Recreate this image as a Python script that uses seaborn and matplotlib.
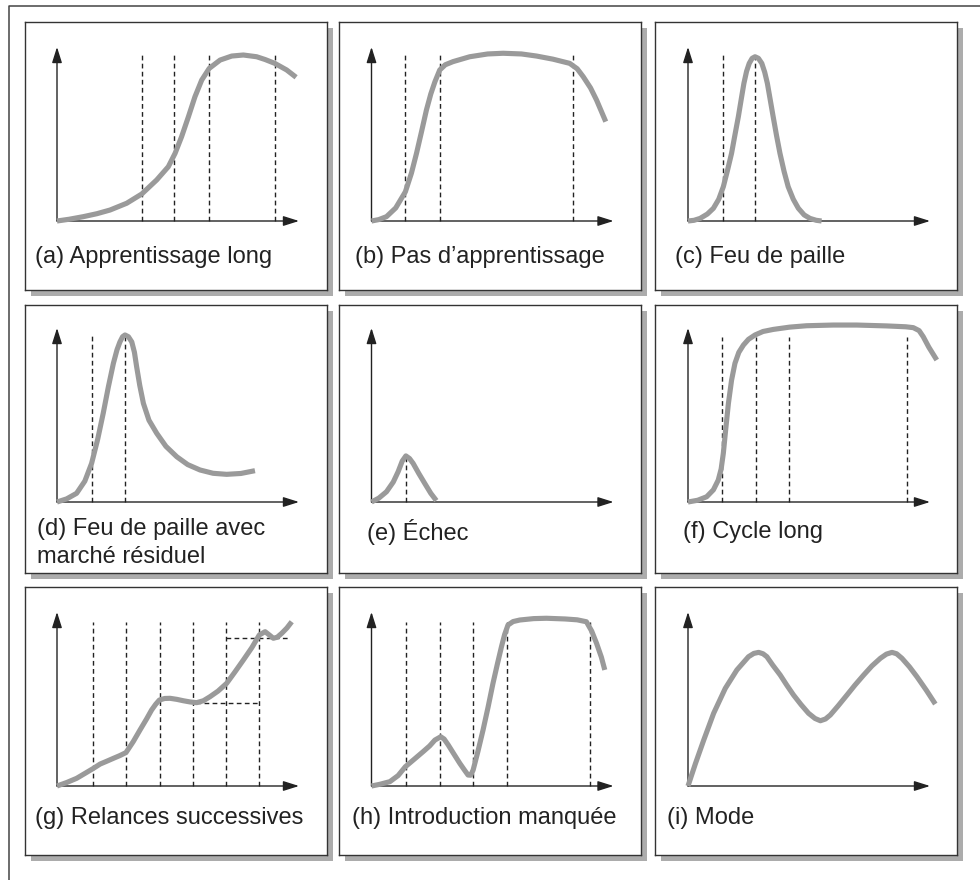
import matplotlib
matplotlib.use("Agg")
import matplotlib.pyplot as plt
import seaborn as sns
from matplotlib.patches import Rectangle
from matplotlib.lines import Line2D

sns.set_theme(style="white")
plt.rcParams['font.family'] = ['Liberation Sans', 'DejaVu Sans']

# ---------------- data ----------------
labels = ["(a) Apprentissage long", "(b) Pas d\u2019apprentissage", "(c) Feu de paille",
          "(d) Feu de paille avec\nmarché résiduel", "(e) Échec", "(f) Cycle long",
          "(g) Relances successives", "(h) Introduction manquée", "(i) Mode"]

a_x = [0.0, 0.5, 1.09, 1.65, 2.19, 2.88, 3.5, 4.12, 4.6, 4.88, 5.15, 5.43, 5.7, 5.98, 6.29, 6.74, 7.22, 7.7, 8.25, 8.6, 9.0, 9.49, 9.88]
a_y = [0.0, 0.1, 0.25, 0.42, 0.63, 1.02, 1.55, 2.36, 3.12, 3.89, 4.85, 5.99, 7.14, 8.1, 8.77, 9.25, 9.48, 9.54, 9.44, 9.28, 9.06, 8.68, 8.26]

b_x = [0.0, 0.3, 0.62, 1.0, 1.40, 1.65, 1.86, 2.07, 2.27, 2.45, 2.62, 2.82, 3.05, 3.37, 4.06, 4.8, 5.44, 6.2, 6.82, 7.5, 8.19, 8.5, 8.75, 9.05, 9.3, 9.68]
b_y = [0.0, 0.08, 0.25, 0.75, 1.68, 2.75, 3.89, 5.15, 6.38, 7.3, 8.0, 8.68, 8.98, 9.16, 9.44, 9.6, 9.64, 9.6, 9.48, 9.3, 9.06, 8.75, 8.29, 7.65, 6.95, 5.71]

c_x = [0.0, 0.25, 0.5, 0.8, 1.05, 1.27, 1.46, 1.63, 1.8, 1.94, 2.08, 2.2, 2.31, 2.42, 2.53, 2.65, 2.77, 2.91, 3.05, 3.17, 3.28, 3.4, 3.52, 3.66, 3.8, 3.97, 4.14, 4.35, 4.56, 4.8, 5.04, 5.3, 5.52]
c_y = [0.0, 0.04, 0.15, 0.4, 0.73, 1.25, 1.97, 2.9, 3.89, 4.95, 5.99, 7.0, 7.91, 8.6, 9.06, 9.35, 9.44, 9.35, 9.06, 8.55, 7.91, 6.95, 5.99, 4.9, 3.89, 2.85, 1.97, 1.25, 0.73, 0.35, 0.15, 0.04, 0.0]

d_x = [0.0, 0.4, 0.81, 1.15, 1.43, 1.68, 1.91, 2.12, 2.33, 2.48, 2.6, 2.71, 2.81, 2.95, 3.09, 3.2, 3.29, 3.42, 3.57, 3.8, 4.12, 4.5, 4.95, 5.4, 5.91, 6.45, 7.01, 7.6, 8.18]
d_y = [0.0, 0.18, 0.5, 1.2, 2.22, 3.6, 5.1, 6.6, 7.97, 8.75, 9.2, 9.5, 9.6, 9.5, 9.2, 8.6, 7.78, 6.7, 5.67, 4.7, 3.95, 3.2, 2.6, 2.15, 1.84, 1.65, 1.59, 1.64, 1.80]

e_x = [0.0, 0.3, 0.62, 0.9, 1.10, 1.27, 1.42, 1.57, 1.72, 1.95, 2.2, 2.45, 2.68]
e_y = [0.0, 0.22, 0.59, 1.15, 1.74, 2.35, 2.65, 2.5, 2.22, 1.65, 1.07, 0.5, 0.08]

f_x = [0.0, 0.4, 0.77, 1.05, 1.25, 1.37, 1.46, 1.56, 1.67, 1.8, 1.94, 2.1, 2.29, 2.5, 2.77, 3.1, 3.53, 4.2, 4.9, 6.0, 6.97, 8.2, 9.0, 9.31, 9.55, 9.72, 9.95, 10.28]
f_y = [0.0, 0.1, 0.3, 0.7, 1.26, 1.9, 2.8, 4.2, 5.67, 7.0, 7.97, 8.6, 9.02, 9.35, 9.6, 9.8, 9.92, 10.05, 10.13, 10.17, 10.17, 10.12, 10.07, 10.02, 9.85, 9.5, 8.9, 8.16]

g_x = [0.0, 0.4, 0.81, 1.15, 1.5, 1.78, 2.05, 2.33, 2.6, 2.85, 3.15, 3.43, 3.7, 3.91, 4.08, 4.23, 4.45, 4.67, 4.95, 5.22, 5.5, 5.77, 6.05, 6.32, 6.65, 7.01, 7.35, 7.7, 8.05, 8.36, 8.6, 8.8, 8.94, 9.1, 9.29, 9.5, 9.7]
g_y = [0.0, 0.2, 0.44, 0.72, 1.01, 1.26, 1.42, 1.59, 1.75, 1.92, 2.55, 3.22, 3.85, 4.37, 4.7, 4.94, 5.03, 5.04, 4.98, 4.9, 4.83, 4.79, 4.9, 5.13, 5.45, 5.9, 6.55, 7.24, 7.95, 8.68, 8.87, 8.65, 8.49, 8.55, 8.78, 9.08, 9.44]
g_hdash_y = [4.75, 8.49]
g_hdash_x0 = [5.75, 6.98]
g_hdash_x1 = [8.36, 9.63]

h_x = [0.0, 0.35, 0.76, 1.1, 1.4, 1.75, 2.13, 2.4, 2.62, 2.86, 3.0, 3.17, 3.4, 3.65, 3.85, 3.99, 4.1, 4.2, 4.4, 4.61, 4.82, 5.02, 5.2, 5.37, 5.5, 5.64, 5.85, 6.13, 6.7, 7.23, 8.0, 8.5, 8.88, 9.1, 9.3, 9.5, 9.64]
h_y = [0.0, 0.1, 0.25, 0.6, 1.11, 1.52, 1.97, 2.3, 2.64, 2.83, 2.7, 2.36, 1.85, 1.3, 0.9, 0.63, 0.62, 0.92, 2.0, 3.22, 4.55, 5.9, 7.0, 8.0, 8.7, 9.25, 9.45, 9.54, 9.62, 9.64, 9.6, 9.55, 9.44, 8.9, 8.2, 7.4, 6.67]

i_x = [0.0, 0.31, 0.65, 1.06, 1.54, 2.02, 2.5, 2.72, 2.92, 3.1, 3.26, 3.5, 3.81, 4.08, 4.36, 4.67, 4.98, 5.25, 5.47, 5.68, 5.88, 6.2, 6.57, 6.9, 7.26, 7.6, 7.95, 8.2, 8.43, 8.62, 8.84, 9.15, 9.46, 9.85, 10.22]
i_y = [0.0, 1.3, 2.64, 4.18, 5.61, 6.67, 7.43, 7.62, 7.68, 7.6, 7.43, 6.95, 6.38, 5.8, 5.23, 4.68, 4.18, 3.88, 3.75, 3.85, 4.08, 4.6, 5.23, 5.8, 6.38, 6.9, 7.34, 7.58, 7.68, 7.6, 7.34, 6.85, 6.28, 5.5, 4.71]

curves_x = [a_x, b_x, c_x, d_x, e_x, f_x, g_x, h_x, i_x]
curves_y = [a_y, b_y, c_y, d_y, e_y, f_y, g_y, h_y, i_y]

dash_x = [[3.5, 4.85, 6.29, 9.0],
          [1.40, 2.82, 8.33],
          [1.43, 2.77],
          [1.43, 2.81],
          [1.42],
          [1.42, 2.8, 4.17, 9.04],
          [1.47, 2.85, 4.26, 5.6, 6.98, 8.36],
          [1.42, 2.84, 4.2, 5.58, 9.02],
          []]
dash_top = [9.54, 9.54, 9.54, 9.6, 2.6, 9.5, 9.44, 9.44, 9.44]

# ---------------- layout (pixels) ----------------
FW, FH = 980, 880
box_left = [25, 339, 655]
box_top = [22, 305, 587]
BW, BH = 302, 268
origin_dx = [32, 32.5, 33]
origin_dy = [199, 197, 199]
SX, SY = 24.2, 17.4
label_pos = [(10, 235), (16, 235), (20, 235), (12, 224), (28, 227), (28, 227),
             (10, 231), (13, 231), (12, 231)]

CURVE = "#9a9a9a"
INK = "#222222"

fig = plt.figure(figsize=(FW / 100, FH / 100), dpi=100)
fig.patch.set_facecolor("white")

# outer frame (left and top edges)
fig.add_artist(Line2D([9 / FW, 9 / FW, 1.0], [0.0, 1 - 6 / FH, 1 - 6 / FH],
                      transform=fig.transFigure, color="#444444", lw=1.1))

for k in range(9):
    r, c = divmod(k, 3)
    L, T = box_left[c], box_top[r]
    # shadow
    fig.add_artist(Rectangle(((L + 6) / FW, 1 - (T + BH + 6) / FH), BW / FW, BH / FH,
                             transform=fig.transFigure, facecolor="#acacac",
                             edgecolor="none", zorder=-1))
    ax = fig.add_axes([L / FW, 1 - (T + BH) / FH, BW / FW, BH / FH])
    ax.set_facecolor("white")
    ox, oy = origin_dx[c], origin_dy[r]
    ax.set_xlim(-ox / SX, (BW - ox) / SX)
    ax.set_ylim((oy - BH) / SY, oy / SY)
    ax.set_xticks([])
    ax.set_yticks([])
    for sp in ax.spines.values():
        sp.set_visible(True)
        sp.set_color("#333333")
        sp.set_linewidth(1.0)

    # dashed guides
    if dash_x[k]:
        ax.vlines(dash_x[k], 0, dash_top[k], colors=INK, linewidth=1.0,
                  linestyles=(0, (3.4, 2.4)), zorder=2)
    if k == 6:
        ax.hlines(g_hdash_y, g_hdash_x0, g_hdash_x1, colors=INK, linewidth=1.0,
                  linestyles=(0, (3.4, 2.4)), zorder=2)

    # axes arrows
    arrow = dict(arrowstyle="-|>,head_length=0.95,head_width=0.3", color=INK,
                 lw=1.0, shrinkA=0, shrinkB=0, mutation_scale=10)
    ax.annotate("", xy=(10, 0), xytext=(0, 0), arrowprops=arrow, zorder=3)
    ax.annotate("", xy=(0, 10), xytext=(0, 0), arrowprops=arrow, zorder=3)

    # curve
    sns.lineplot(x=curves_x[k], y=curves_y[k], ax=ax, color=CURVE, linewidth=3.7,
                 sort=False, estimator=None, solid_capstyle="butt",
                 solid_joinstyle="round", zorder=4)

    # label
    lx, ly = label_pos[k]
    for j, line in enumerate(labels[k].split("\n")):
        ax.text(lx / BW, 1 - (ly + 28 * j) / BH, line, transform=ax.transAxes,
                ha="left", va="center", fontsize=17, color="#222222")

fig.savefig("out.png", dpi=100, facecolor="white")
